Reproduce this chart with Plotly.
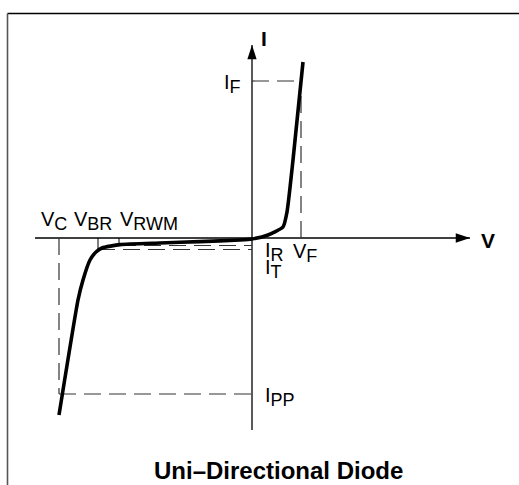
"""Uni-directional TVS diode I-V characteristic, redrawn with Plotly."""
import plotly.graph_objects as go

# I-V curve of the diode (arbitrary units, origin at V=0, I=0)
curve_v = [-9.65, -8.7, -8.45, -8.1, -7.8, -7.5, -6.6, -4.6, -2.6, -0.6, 0.0, 0.8, 1.55, 1.75, 2.05, 2.55]
curve_i = [-8.85, -3.1, -2.1, -1.1, -0.7, -0.5, -0.33, -0.25, -0.18, -0.1, -0.05, 0.15, 0.55, 1.3, 3.9, 8.8]

# characteristic levels
level_names = ['V_C', 'V_BR', 'V_RWM', 'V_F']
level_v = [-9.65, -7.7, -6.65, 2.45]
current_names = ['I_F', 'I_R', 'I_T', 'I_PP']
current_i = [7.85, -0.375, -0.575, -7.8]

# axis extents
v_axis = [-10.85, 10.9]
i_axis = [-9.6, 9.65]

V_C, V_BR, V_RWM, V_F = level_v
I_F, I_R, I_T, I_PP = current_i

FONT = 'Liberation Sans, Arial, Helvetica, sans-serif'
W, H = 519, 485
ORIGIN = (252, 238)   # pixel position of the origin
SCALE = 20            # pixels per unit

fig = go.Figure()

# the diode curve
fig.add_trace(go.Scatter(x=curve_v, y=curve_i, mode='lines',
                         line=dict(color='black', width=3.6, shape='spline', smoothing=0.5),
                         hoverinfo='skip', showlegend=False))

# arrow tips of the two axes
fig.add_trace(go.Scatter(x=[v_axis[1], 0], y=[0, i_axis[1]], mode='markers',
                         marker=dict(symbol='arrow', size=15, color='black',
                                     angle=[90, 0], line=dict(width=0)),
                         hoverinfo='skip', showlegend=False))

shapes = []


def seg(x0, y0, x1, y1, dash='solid', width=1.3, color='black'):
    shapes.append(dict(type='line', x0=x0, y0=y0, x1=x1, y1=y1, xref='x', yref='y',
                       layer='below', line=dict(color=color, width=width, dash=dash)))


# axes
seg(v_axis[0], 0, v_axis[1], 0)
seg(0, i_axis[0], 0, i_axis[1])

# dashed guides
DASH = '17px,8px'
GREY = '#333333'
seg(0, I_F, V_F, I_F, DASH, 1.2, GREY)
seg(V_F, 0, V_F, I_F, DASH, 1.2, GREY)
seg(V_C, 0, V_C, I_PP, DASH, 1.2, GREY)
seg(V_C, I_PP, 0, I_PP, DASH, 1.2, GREY)
seg(V_RWM, I_R, 0, I_R, DASH, 1.2, GREY)
seg(V_BR, I_T, 0, I_T, DASH, 1.2, GREY)

# short solid ticks at V_BR and V_RWM
seg(V_BR, 0, V_BR, I_T, width=1.0)
seg(V_RWM, 0, V_RWM, -0.25, width=1.0)

# frame: top and left border
shapes.append(dict(type='line', xref='paper', yref='paper', x0=7.5 / W, x1=1,
                   y0=1 - 13.5 / H, y1=1 - 13.5 / H, line=dict(color='black', width=1.6)))
shapes.append(dict(type='line', xref='paper', yref='paper', x0=7.5 / W, x1=7.5 / W,
                   y0=0, y1=1 - 13.5 / H, line=dict(color='#555555', width=1.6)))


def lab(main, sub):
    if not sub:
        return main
    return f'{main}<sub><span style="font-size:18px">{sub}</span></sub>'


annotations = []


def note(text, x, y, xanchor='left', yanchor='middle', xshift=0, yshift=0, bold=False, size=20):
    annotations.append(dict(text=text, x=x, y=y, xref='x', yref='y', showarrow=False,
                            xanchor=xanchor, yanchor=yanchor, xshift=xshift, yshift=yshift,
                            font=dict(family=FONT, size=size, color='black',
                                      weight='bold' if bold else 'normal')))


# axis names
note('I', 0, i_axis[1], xshift=7, yshift=7, bold=True, size=21)
note('V', v_axis[1], 0, xshift=9, yshift=-2, bold=True, size=21)

# voltage labels above the V axis
note(lab('V', 'C'), V_C, 0, yanchor='bottom', xshift=-20, yshift=2)
note(lab('V', 'BR'), V_BR, 0, yanchor='bottom', xshift=-26, yshift=2)
note(lab('V', 'RWM'), V_RWM, 0, yanchor='bottom', xshift=-1, yshift=2)
note(lab('V', 'F'), V_F, 0, yanchor='top', xshift=-10, yshift=0)

# current labels next to the I axis
note(lab('I', 'F'), 0, I_F, xanchor='right', xshift=-9, yshift=-3)
note(lab('I', 'R'), 0, 0, yanchor='top', xshift=11, yshift=1)
note(lab('I', 'T'), 0, 0, yanchor='top', xshift=11, yshift=-16)
note(lab('I', 'PP'), 0, I_PP, xshift=11, yshift=-3)

# caption
annotations.append(dict(text='Uni\u2013Directional Diode', x=278 / W, y=1 - 470 / H,
                        xref='paper', yref='paper', showarrow=False,
                        xanchor='center', yanchor='middle',
                        font=dict(family=FONT, size=24, color='black', weight='bold')))

fig.update_layout(
    width=W, height=H,
    margin=dict(l=0, r=0, t=0, b=0),
    paper_bgcolor='white', plot_bgcolor='white',
    shapes=shapes, annotations=annotations,
    xaxis=dict(range=[-ORIGIN[0] / SCALE, (W - ORIGIN[0]) / SCALE], visible=False, fixedrange=True),
    yaxis=dict(range=[(ORIGIN[1] - H) / SCALE, ORIGIN[1] / SCALE], visible=False, fixedrange=True),
)

fig.write_html("out.html", config={'displayModeBar': False},
               post_script="document.body.style.margin='0';")
